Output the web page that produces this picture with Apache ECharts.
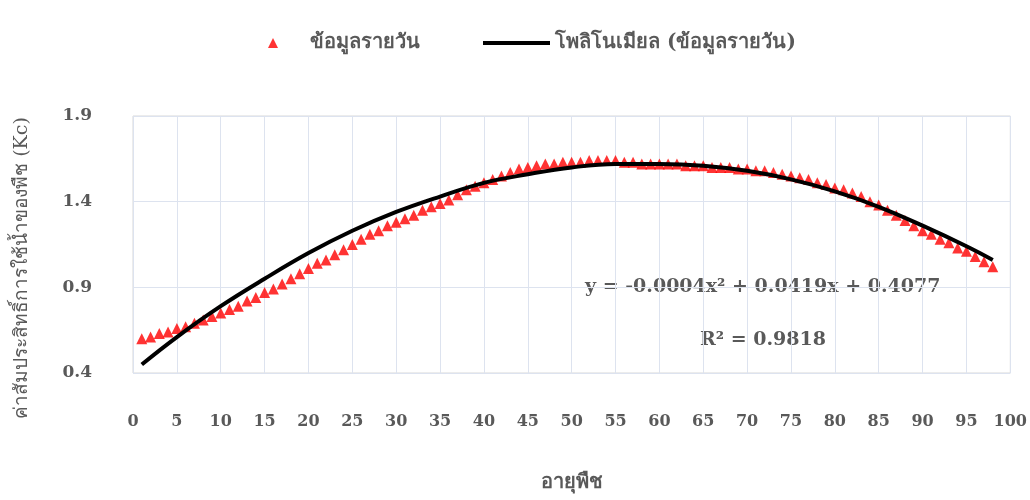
<!DOCTYPE html>
<html>
<head>
<meta charset="utf-8">
<script src="https://cdn.jsdelivr.net/npm/echarts@6/dist/echarts.min.js"></script>
<style>
  html, body { margin: 0; padding: 0; background: #ffffff; }
  #chart { width: 1030px; height: 500px; }
</style>
</head>
<body>
<div id="chart"></div>
<script>
// Crop age in days (x) for the daily Kc observations
const days = [
  1, 2, 3, 4, 5, 6, 7, 8, 9, 10,
  11, 12, 13, 14, 15, 16, 17, 18, 19, 20,
  21, 22, 23, 24, 25, 26, 27, 28, 29, 30,
  31, 32, 33, 34, 35, 36, 37, 38, 39, 40,
  41, 42, 43, 44, 45, 46, 47, 48, 49, 50,
  51, 52, 53, 54, 55, 56, 57, 58, 59, 60,
  61, 62, 63, 64, 65, 66, 67, 68, 69, 70,
  71, 72, 73, 74, 75, 76, 77, 78, 79, 80,
  81, 82, 83, 84, 85, 86, 87, 88, 89, 90,
  91, 92, 93, 94, 95, 96, 97, 98
];

// Daily crop coefficient (Kc)
const dailyKc = [
  0.60, 0.61, 0.63, 0.64, 0.66, 0.67, 0.69, 0.71, 0.73, 0.75,
  0.77, 0.79, 0.82, 0.84, 0.87, 0.89, 0.92, 0.95, 0.98, 1.01,
  1.04, 1.06, 1.09, 1.12, 1.15, 1.18, 1.21, 1.23, 1.26, 1.28,
  1.30, 1.32, 1.35, 1.37, 1.39, 1.41, 1.44, 1.47, 1.49, 1.51,
  1.53, 1.55, 1.57, 1.59, 1.60, 1.61, 1.62, 1.62, 1.63, 1.63,
  1.63, 1.64, 1.64, 1.64, 1.64, 1.63, 1.63, 1.62, 1.62, 1.62,
  1.62, 1.62, 1.61, 1.61, 1.61, 1.60, 1.60, 1.60, 1.59, 1.59,
  1.58, 1.58, 1.57, 1.56, 1.55, 1.54, 1.53, 1.51, 1.50, 1.48,
  1.47, 1.45, 1.43, 1.40, 1.38, 1.35, 1.32, 1.29, 1.26, 1.23,
  1.21, 1.18, 1.16, 1.13, 1.11, 1.08, 1.05, 1.02
];

// Polynomial trend line, sampled along crop age
const trendDays = [1, 5, 10, 15, 20, 25, 30, 35, 40, 45, 50, 55, 60, 65, 70, 75, 80, 85, 90, 95, 98];
const trendKc   = [0.45, 0.61, 0.79, 0.95, 1.10, 1.23, 1.34, 1.43, 1.51, 1.56, 1.60, 1.62, 1.62, 1.61, 1.58, 1.53, 1.46, 1.37, 1.26, 1.14, 1.06];

// Axis ticks
const xTicks = { min: 0, max: 100, step: 5 };
const yTicks = { min: 0.4, max: 1.9, step: 0.5 };

// Text
const seriesNames = ['ข้อมูลรายวัน', 'โพลิโนเมียล (ข้อมูลรายวัน)'];
const xTitle = 'อายุพืช';
const yTitle = 'ค่าสัมประสิทธิ์การใช้น้ำของพืช (Kc)';
const equationText = 'y = -0.0004x² + 0.0419x + 0.4077';
const r2Text = 'R² = 0.9818';

const FONT = '"DejaVu Serif", "Liberation Serif", "Noto Sans", serif';
const TEXT_COLOR = '#595959';

const chart = echarts.init(document.getElementById('chart'), null, { renderer: 'canvas' });

const scatterData = days.map((d, i) => [d, dailyKc[i]]);
const lineData = trendDays.map((d, i) => [d, trendKc[i]]);

const legendText = { fontFamily: FONT, fontSize: 20, fontWeight: 'bold', color: TEXT_COLOR };

chart.setOption({
  backgroundColor: '#ffffff',
  animation: false,
  legend: [
    {
      data: [{ name: seriesNames[0], icon: 'triangle', itemStyle: { color: '#ff0000' } }],
      left: 263, top: 28,
      itemWidth: 10, itemHeight: 10,
      textStyle: Object.assign({ padding: [0, 0, 0, 27] }, legendText)
    },
    {
      data: [{
        name: seriesNames[1],
        icon: 'path://M0,0 L67,0 L67,4 L0,4 Z',
        itemStyle: { color: '#000000' }
      }],
      left: 478, top: 28,
      itemWidth: 67, itemHeight: 10,
      textStyle: legendText
    }
  ],
  grid: {
    left: 133, right: 19, top: 116, bottom: 127,
    show: true, borderColor: '#d9d9d9', borderWidth: 1,
    containLabel: false
  },
  xAxis: {
    type: 'value',
    min: xTicks.min, max: xTicks.max, interval: xTicks.step,
    axisLine: { show: false },
    axisTick: { show: false },
    axisLabel: {
      margin: 41,
      fontFamily: FONT, fontSize: 16, fontWeight: 'bold', color: TEXT_COLOR
    },
    splitLine: { show: true, lineStyle: { color: '#dde3ef', width: 1 } }
  },
  yAxis: {
    type: 'value',
    min: yTicks.min, max: yTicks.max, interval: yTicks.step,
    axisLine: { show: false },
    axisTick: { show: false },
    axisLabel: {
      margin: 41,
      formatter: v => v.toFixed(1),
      fontFamily: FONT, fontSize: 17, fontWeight: 'bold', color: TEXT_COLOR
    },
    splitLine: { show: true, lineStyle: { color: '#dde3ef', width: 1 } }
  },
  series: [
    {
      name: seriesNames[0],
      type: 'scatter',
      symbol: 'triangle',
      symbolSize: 11,
      itemStyle: { color: '#ff0000' },
      data: scatterData,
      z: 2
    },
    {
      name: seriesNames[1],
      type: 'line',
      smooth: 0.4,
      showSymbol: false,
      symbol: 'none',
      lineStyle: { color: '#000000', width: 4 },
      itemStyle: { color: '#000000' },
      data: lineData,
      z: 3
    }
  ],
  graphic: [
    {
      type: 'text',
      x: 585, y: 287,
      style: {
        text: equationText,
        font: 'bold 19px ' + FONT,
        fill: TEXT_COLOR,
        textAlign: 'left', textVerticalAlign: 'middle'
      }
    },
    {
      type: 'text',
      x: 700, y: 340,
      style: {
        text: r2Text,
        font: 'bold 19px ' + FONT,
        fill: TEXT_COLOR,
        textAlign: 'left', textVerticalAlign: 'middle'
      }
    },
    {
      type: 'text',
      x: 572, y: 483,
      style: {
        text: xTitle,
        font: 'bold 20px ' + FONT,
        fill: TEXT_COLOR,
        textAlign: 'center', textVerticalAlign: 'middle'
      }
    },
    {
      type: 'text',
      x: 22, y: 268,
      rotation: Math.PI / 2,
      style: {
        text: yTitle,
        font: '19px ' + FONT,
        fill: TEXT_COLOR,
        textAlign: 'center', textVerticalAlign: 'middle'
      }
    }
  ]
});
</script>
</body>
</html>
